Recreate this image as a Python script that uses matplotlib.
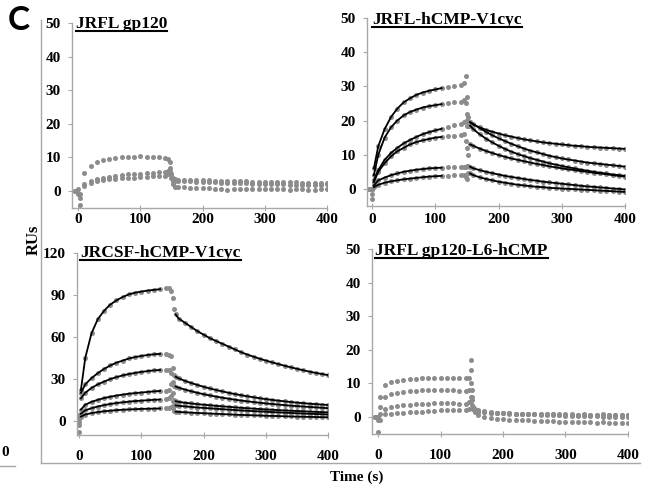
import numpy as np
import matplotlib
matplotlib.use("Agg")
import matplotlib.pyplot as plt
from matplotlib.lines import Line2D

# time grid (s): pre/association, injection-end spike, dissociation
T = [-5, 0, 3, 10, 20, 30, 40, 50, 60, 70, 80, 90, 100, 110, 120, 130, 140,
     145, 148, 150, 152, 155,
     160, 170, 180, 190, 200, 210, 220, 230, 240, 250, 260, 270, 280, 290,
     300, 310, 320, 330, 340, 350, 360, 370, 380, 390, 400]

# JRFL gp120
A1 = [0, -1, -4, 5.5, 7.5, 8.5, 9.2, 9.5, 9.8, 10.0, 10.0, 10.2, 10.3, 10.2, 10.1, 10.0, 9.8,
      9.5, 8.5, 5.0, 2.0, 1.2,
      1.2, 1.1, 1.0, 1.0, 1.0, 0.8, 0.7, 0.5, 0.3, 0.5, 0.6, 0.7, 0.6, 0.5, 0.7,
      0.6, 0.5, 0.6, 0.4, 0.5, 0.6, 0.3, 0.4, 0.5, 0.5]
A2 = [0, -0.5, -2, 2.0, 3.0, 3.5, 4.0, 4.2, 4.5, 4.8, 5.0, 5.0, 5.2, 5.5, 5.5, 5.8, 5.8,
      6.0, 7.0, 5.0, 4.0, 3.5,
      3.4, 3.3, 3.3, 3.2, 3.2, 3.2, 3.1, 3.0, 3.0, 3.0, 2.9, 2.9, 2.8, 2.8, 2.8,
      2.7, 2.7, 2.6, 2.6, 2.6, 2.5, 2.5, 2.5, 2.5, 2.5]
A3 = [0, 0.5, -1, 1.5, 2.5, 3.0, 3.2, 3.5, 3.5, 3.8, 4.0, 4.0, 4.2, 4.3, 4.5, 4.5, 4.5,
      5.0, 6.0, 4.0, 3.0, 3.0,
      3.0, 3.0, 2.9, 2.8, 2.8, 2.7, 2.6, 2.5, 2.5, 2.4, 2.3, 2.3, 2.2, 2.2, 2.1,
      2.0, 2.0, 2.0, 1.9, 1.9, 1.8, 1.8, 1.8, 1.7, 2.0]

# JRFL-hCMP-V1cyc
B1 = [0, -3, 6, 12.5, 17.5, 21, 23.5, 25.3, 26.5, 27.5, 28.2, 28.7, 29.1, 29.5, 29.8, 30.2, 30.5,
      31, 33, 27, 21, 19.5,
      18.8, 18.0, 17.3, 16.7, 16.2, 15.7, 15.3, 14.9, 14.5, 14.2, 13.9, 13.6, 13.4, 13.2, 13.0,
      12.8, 12.6, 12.5, 12.3, 12.2, 12.1, 12.0, 11.9, 11.8, 11.7]
B2 = [0, -1.5, 4, 10, 15, 18, 20, 21.5, 22.5, 23.2, 23.8, 24.2, 24.5, 24.8, 25.0, 25.3, 25.5,
      26, 25, 22, 20, 19.5,
      19.0, 17.8, 16.7, 15.7, 14.8, 14.0, 13.2, 12.5, 11.8, 11.2, 10.7, 10.2, 9.7, 9.3, 8.9,
      8.6, 8.3, 8.0, 7.7, 7.5, 7.3, 7.1, 6.9, 6.7, 6.5]
B3 = [0, 0, 2.5, 5.5, 8.5, 10.5, 12, 13.3, 14.3, 15.2, 16, 16.6, 17.1, 17.6, 18.1, 18.6, 19.0,
      19.5, 20, 18.5, 18.5, 18.5,
      17.5, 16.0, 14.7, 13.6, 12.6, 11.7, 10.9, 10.2, 9.6, 9.0, 8.5, 8.0, 7.5, 7.1, 6.7,
      6.3, 6.0, 5.6, 5.3, 5.0, 4.7, 4.5, 4.2, 4.0, 3.8]
B4 = [0, 0, 2, 5, 7.5, 9.5, 11, 12, 13, 13.7, 14.2, 14.6, 15, 15.2, 15.4, 15.6, 15.8,
      16, 14, 12, 10, 13,
      12.6, 11.8, 11.1, 10.5, 9.9, 9.4, 8.9, 8.5, 8.1, 7.7, 7.3, 7.0, 6.6, 6.3, 6.0,
      5.7, 5.5, 5.2, 5.0, 4.7, 4.5, 4.3, 4.0, 3.8, 3.6]
B5 = [0, 0, 1, 2.5, 3.3, 4.0, 4.5, 5.0, 5.3, 5.6, 5.8, 6.0, 6.1, 6.2, 6.3, 6.4, 6.5,
      6.5, 6.5, 6.8, 6.8, 6.5,
      6.0, 5.5, 5.0, 4.6, 4.2, 3.8, 3.5, 3.2, 2.9, 2.6, 2.4, 2.1, 1.9, 1.7, 1.5,
      1.3, 1.1, 0.9, 0.7, 0.6, 0.4, 0.3, 0.1, 0.0, -0.2]
B6 = [0, 0, 0.5, 1.2, 1.8, 2.2, 2.5, 2.8, 3.0, 3.2, 3.4, 3.6, 3.7, 3.8, 3.9, 4.0, 4.0,
      4.0, 3.5, 3.0, 4.5, 4.5,
      4.0, 3.4, 2.9, 2.5, 2.1, 1.8, 1.5, 1.2, 1.0, 0.8, 0.6, 0.5, 0.3, 0.2, 0.1,
      0.0, -0.1, -0.2, -0.3, -0.4, -0.5, -0.6, -0.7, -0.8, -0.9]

# JRCSF-hCMP-V1cyc
C1 = [0, -8, 22, 45, 62.5, 72.5, 78.5, 83, 86, 88.4, 90.3, 91.5, 92.3, 93, 93.5, 94, 94.5,
      95, 93, 88, 80, 76,
      73, 70, 67, 64, 61.5, 59, 57, 55, 53, 51, 49, 47.3, 45.8, 44.3, 43,
      41.7, 40.5, 39.3, 38.2, 37.1, 36.1, 35.1, 34.2, 33.4, 32.6]
C2 = [0, -3, 20, 26, 30.5, 34, 37, 39.5, 41.5, 43, 44.5, 45.5, 46.3, 47, 47.5, 47.8, 48,
      47, 46, 38, 33, 31.5,
      30.3, 28.5, 27, 25.6, 24.3, 23.1, 22, 21, 20, 19.1, 18.3, 17.5, 16.8, 16.1, 15.5,
      14.9, 14.4, 13.9, 13.4, 13, 12.6, 12.2, 11.9, 11.6, 11.3]
C3 = [0, 2, 16, 20, 23.5, 26, 28, 29.8, 31.2, 32.4, 33.4, 34.2, 34.9, 35.5, 36, 36.3, 36.5,
      36, 34, 28, 25, 24.5,
      23.6, 22.3, 21.1, 20, 19, 18.1, 17.3, 16.5, 15.8, 15.1, 14.5, 13.9, 13.4, 12.9, 12.4,
      12, 11.6, 11.2, 10.8, 10.5, 10.2, 9.9, 9.6, 9.3, 9.0]
C4 = [0, 4, 8, 11.5, 13.5, 15, 16.2, 17.2, 18, 18.7, 19.3, 19.8, 20.2, 20.6, 21, 21.3, 21.5,
      22, 26, 20, 15, 14,
      13.5, 12.9, 12.4, 11.9, 11.5, 11.1, 10.7, 10.3, 10, 9.6, 9.3, 9, 8.7, 8.4, 8.1,
      7.9, 7.6, 7.4, 7.2, 7.0, 6.8, 6.6, 6.4, 6.2, 6.0]
C5 = [0, 1, 5, 7.5, 9, 10.2, 11.2, 12, 12.7, 13.2, 13.7, 14.1, 14.4, 14.7, 15, 15.2, 15.3,
      16, 18, 14, 11.5, 11,
      10.7, 10.3, 9.9, 9.5, 9.2, 8.9, 8.6, 8.3, 8.0, 7.7, 7.4, 7.2, 6.9, 6.7, 6.5,
      6.2, 6.0, 5.8, 5.6, 5.4, 5.2, 5.0, 4.9, 4.7, 4.5]
C6 = [0, -1, 3, 4.5, 5.5, 6.2, 6.8, 7.2, 7.6, 7.9, 8.1, 8.3, 8.5, 8.6, 8.7, 8.8, 8.9,
      9, 10, 9, 7, 6.5,
      6.3, 6.1, 5.8, 5.6, 5.4, 5.2, 5.0, 4.8, 4.6, 4.4, 4.2, 4.1, 3.9, 3.8, 3.6,
      3.5, 3.4, 3.2, 3.1, 3.0, 2.9, 2.8, 2.7, 2.6, 2.5]

# JRFL gp120-L6-hCMP
D1 = [0, -1, 6, 9.5, 10.3, 10.8, 11, 11.2, 11.3, 11.5, 11.6, 11.5, 11.7, 11.6, 11.5, 11.6, 11.5,
      11.5, 17, 8, 3, 2,
      1.8, 1.5, 1.3, 1.2, 1.1, 1.0, 1.0, 0.9, 1.0, 0.9, 0.8, 0.9, 0.8, 0.7, 0.8,
      0.8, 0.7, 0.8, 0.7, 0.6, 0.8, 0.7, 0.6, 0.7, 0.6]
D2 = [0, 0, 3, 6.0, 6.8, 7.2, 7.4, 7.6, 7.8, 7.9, 8.0, 8.1, 8.0, 7.9, 8.0, 7.8, 7.8,
      8, 14, 6, 2.5, 1.5,
      0.5, 0.0, -0.3, -0.5, -0.7, -0.8, -0.9, -1.0, -1.0, -1.1, -1.2, -1.3, -1.3, -1.4, -1.5,
      -1.5, -1.6, -1.5, -1.6, -1.7, -1.6, -1.8, -1.7, -1.9, -1.8]
D3 = [0, 0, 1, 2.5, 3.0, 3.3, 3.5, 3.7, 3.8, 4.0, 4.0, 4.1, 4.2, 4.2, 4.1, 4.0, 4.0,
      4.5, 10, 5, 3, 2.5,
      2.0, 1.7, 1.5, 1.3, 1.2, 1.1, 1.0, 0.9, 0.8, 0.8, 0.7, 0.6, 0.6, 0.5, 0.4,
      0.4, 0.3, 0.3, 0.2, 0.2, 0.1, 0.1, 0.0, 0.0, -0.1]
D4 = [0, -4.5, -1, 0.8, 1.0, 1.2, 1.3, 1.5, 1.6, 1.6, 1.8, 1.9, 2.0, 2.0, 2.1, 2.2, 2.2,
      2.5, 6, 3.5, 2.5, 2.0,
      1.6, 1.4, 1.3, 1.2, 1.1, 1.1, 1.0, 1.0, 0.9, 0.9, 0.9, 0.8, 0.8, 0.8, 0.7,
      0.7, 0.7, 0.7, 0.6, 0.6, 0.6, 0.5, 0.5, 0.5, 0.5]

DOT = '#8c8c8c'
AXC = '#a8a8a8'
SERIF = 'Liberation Serif'

t = np.array(T, dtype=float)


def panel(ax, curves, title, ylim, yticks, xlim, fits=(), xpad=4, tpos=(0.015, 0.97)):
    for y in curves:
        y = np.array(y, dtype=float)
        ax.plot(t, y, 'o', ms=3.6, color=DOT, mec='none', zorder=2)
        for lo, hi in fits:
            m = (t >= lo) & (t <= hi)
            ax.plot(t[m], y[m], color='black', lw=1.3, zorder=3)
    ax.set_xlim(*xlim)
    ax.set_ylim(*ylim)
    ax.set_xticks([0, 100, 200, 300, 400])
    ax.set_yticks(yticks)
    for s in ('top', 'right'):
        ax.spines[s].set_visible(False)
    for s in ('left', 'bottom'):
        ax.spines[s].set_color(AXC)
        ax.spines[s].set_linewidth(1.0)
    ax.tick_params(axis='y', direction='out', length=3, color=AXC, pad=5)
    ax.tick_params(axis='x', direction='inout', length=4, color=AXC, pad=xpad)
    for lab in ax.get_xticklabels() + ax.get_yticklabels():
        lab.set_fontfamily(SERIF)
        lab.set_fontweight('bold')
        lab.set_fontsize(11)
    return ax.text(tpos[0], tpos[1], title, transform=ax.transAxes, ha='left',
                   va='baseline', fontfamily=SERIF, fontweight='bold', fontsize=12.5,
                   clip_on=False)


fig = plt.figure(figsize=(6.54, 4.88), dpi=100)
axA = fig.add_axes([0.110, 0.574, 0.390, 0.379])
axB = fig.add_axes([0.561, 0.578, 0.395, 0.385])
axC = fig.add_axes([0.118, 0.109, 0.384, 0.373])
axD = fig.add_axes([0.569, 0.111, 0.391, 0.379])

titles = [
    panel(axA, [A1, A2, A3], 'JRFL gp120', (-5, 50), range(0, 51, 10), (-10, 400),
          xpad=2, tpos=(0.016, 0.973)),
    panel(axB, [B1, B2, B3, B4, B5, B6], 'JRFL-hCMP-V1cyc', (-5, 50), range(0, 51, 10),
          (-8, 400), fits=[(3, 110), (155, 400)], xpad=3, tpos=(0.02, 0.968)),
    panel(axC, [C1, C2, C3, C4, C5, C6], 'JRCSF-hCMP-V1cyc', (-10, 120), range(0, 121, 30),
          (-3, 400), fits=[(3, 130), (155, 400)], xpad=9, tpos=(0.012, 0.978)),
    panel(axD, [D1, D2, D3, D4], 'JRFL gp120-L6-hCMP', (-5, 50), range(0, 51, 10),
          (-10, 400), xpad=9, tpos=(0.012, 0.968)),
]

fig.text(19 / 654, 1 - 21 / 488, 'C', ha='center', va='center', fontfamily='Lato',
         fontweight='bold', fontsize=24)
fig.text(34 / 654, 1 - 240 / 488, 'RUs', rotation=90, ha='center', va='center',
         fontfamily=SERIF, fontweight='bold', fontsize=12)
fig.text(357 / 654, 1 - 477 / 488, 'Time (s)', ha='center', va='center',
         fontfamily=SERIF, fontweight='bold', fontsize=11)

# outer frame of the figure block and bits of the neighbouring panel
fig.add_artist(Line2D([41 / 654, 41 / 654], [1 - 20 / 488, 1 - 463 / 488], color=AXC, lw=1))
fig.add_artist(Line2D([41 / 654, 640 / 654], [1 - 463 / 488, 1 - 463 / 488], color=AXC, lw=1))
fig.add_artist(Line2D([0, 15 / 654], [1 - 466 / 488, 1 - 466 / 488], color=AXC, lw=1))
fig.text(9 / 654, 1 - 453 / 488, '0', ha='right', va='center', fontfamily=SERIF,
         fontweight='bold', fontsize=11)

# underline the panel titles
fig.canvas.draw()
r = fig.canvas.get_renderer()
inv = fig.transFigure.inverted()
for txt in titles:
    bb = txt.get_window_extent(r)
    bx, by = txt.get_transform().transform(txt.get_position())
    (fx0, fy), (fx1, _) = inv.transform([(bb.x0, by - 3), (bb.x1, by - 3)])
    fig.add_artist(Line2D([fx0, fx1], [fy, fy], color='black', lw=1.5))

fig.savefig('out.png', dpi=100)
